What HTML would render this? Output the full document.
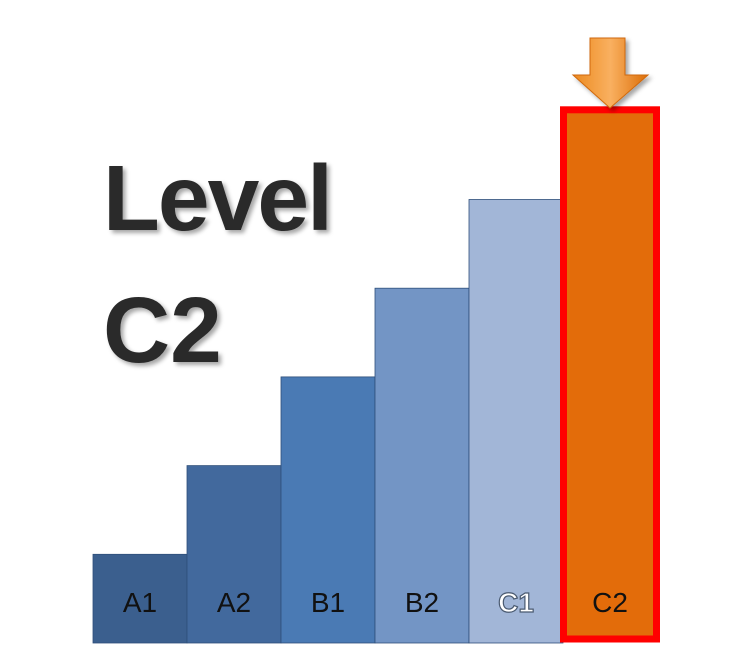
<!DOCTYPE html>
<html><head><meta charset="utf-8"><style>
html,body{margin:0;padding:0;background:#fff;width:751px;height:667px;overflow:hidden}
svg{display:block}
</style></head><body>
<svg id="chart" width="751" height="667" viewBox="0 0 751 667">
<defs>
<linearGradient id="ag" x1="0" y1="0" x2="1" y2="0">
<stop offset="0" stop-color="#ec8a20"/><stop offset="0.5" stop-color="#f9b060"/><stop offset="1" stop-color="#dc6e08"/>
</linearGradient>
<filter id="sh" x="-10%" y="-10%" width="130%" height="130%"><feDropShadow dx="3" dy="3" stdDeviation="2" flood-color="#000" flood-opacity="0.35"/></filter>
</defs>
<text x="103" y="230" font-family="Liberation Sans, sans-serif" font-weight="bold" font-size="93" fill="#2b2b2b" filter="url(#sh)" textLength="230">Level</text>
<text x="103" y="362" font-family="Liberation Sans, sans-serif" font-weight="bold" font-size="93" fill="#2b2b2b" filter="url(#sh)">C2</text>
<g id="bars"></g>
<g filter="url(#sh)">
<polygon points="590,38 625,38 625,75 648,75 610,108 573,75 590,75" fill="url(#ag)" stroke="#d06808" stroke-width="1"/>
</g>
</svg>
<script>
const categories = ["A1","A2","B1","B2","C1","C2"];
const values = [1,2,3,4,5,6];
const colors = ["#3b5f8e","#42699d","#4a7ab4","#7395c5","#a2b6d7","#e36c0a"];
const highlight = "C2";
const x0 = 93, bw = 94, baseY = 643, unit = 88.7;
const xs = i => x0 + i*bw;
const ys = v => baseY - v*unit;
const g = document.getElementById('bars');
const NS = "http://www.w3.org/2000/svg";
categories.forEach((c,i)=>{
  const r = document.createElementNS(NS,'rect');
  
  
  r.setAttribute('x',xs(i)); r.setAttribute('y',ys(values[i]));
  r.setAttribute('width',bw); r.setAttribute('height',baseY-ys(values[i]));
  r.setAttribute('fill',colors[i]);
  r.setAttribute('stroke','#2f4f7a'); r.setAttribute('stroke-width','0.8');
  if(c===highlight){ r.setAttribute('stroke','#ff0000'); r.setAttribute('stroke-width','7');
    r.setAttribute('x',xs(i)+0.5); r.setAttribute('width',bw-1); r.setAttribute('y',ys(values[i])-1); r.setAttribute('height',baseY-ys(values[i])-3);}
  g.appendChild(r);
  const t = document.createElementNS(NS,'text');
  
  
  t.setAttribute('x',xs(i)+bw/2); t.setAttribute('y',612);
  t.setAttribute('text-anchor','middle');
  t.setAttribute('font-family','Liberation Sans, sans-serif');
  t.setAttribute('font-size','28');
  if(c==="C1"){ t.setAttribute('fill','#fff'); t.setAttribute('stroke','#4a5a70'); t.setAttribute('stroke-width','1.2'); t.setAttribute('font-weight','bold'); }
  else t.setAttribute('fill','#111');
  t.textContent = c;
  g.appendChild(t);
});
</script>
</body></html>
